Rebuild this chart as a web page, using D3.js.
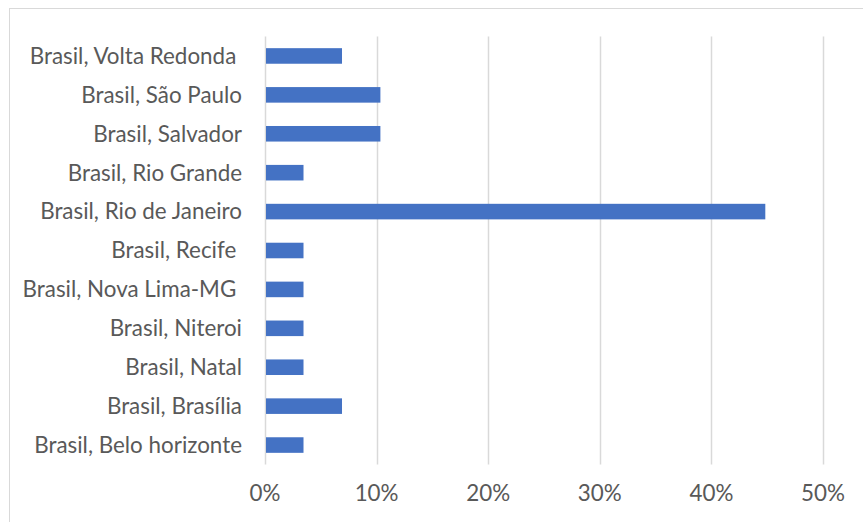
<!DOCTYPE html>
<html>
<head>
<meta charset="utf-8">
<script src="https://cdn.jsdelivr.net/npm/d3@7"></script>
<style>
  html, body { margin: 0; padding: 0; background: #fff; }
  svg text { white-space: pre; }
</style>
</head>
<body>
<svg id="chart" width="863" height="522"></svg>
<script>
// Cities, listed top to bottom
const cities = [
  "Brasil, Volta Redonda ",
  "Brasil, São Paulo",
  "Brasil, Salvador",
  "Brasil, Rio Grande",
  "Brasil, Rio de Janeiro",
  "Brasil, Recife ",
  "Brasil, Nova Lima-MG ",
  "Brasil, Niteroi",
  "Brasil, Natal",
  "Brasil, Brasília",
  "Brasil, Belo horizonte"
];
// Share of responses per city
const shares = [0.069, 0.1034, 0.1034, 0.0345, 0.4483, 0.0345, 0.0345, 0.0345, 0.0345, 0.069, 0.0345];
const ticks = [0, 0.1, 0.2, 0.3, 0.4, 0.5];

const svg = d3.select("#chart");
const font = "Lato, 'Open Sans', sans-serif";

// Chart frame
svg.append("rect")
  .attr("x", 9.5).attr("y", 8.5)
  .attr("width", 870).attr("height", 530)
  .attr("fill", "#fff").attr("stroke", "#d9d9d9").attr("stroke-width", 1);

const x = d3.scaleLinear().domain([0, 0.5]).range([265, 823]);
const y = d3.scaleBand().domain(cities).range([36.5, 464.5]).paddingInner(0.6).paddingOuter(0.3);

// Vertical gridlines
svg.append("g").selectAll("line").data(ticks).join("line")
  .attr("x1", d => Math.round(x(d)) + 0.5).attr("x2", d => Math.round(x(d)) + 0.5)
  .attr("y1", 36.5).attr("y2", 464.5)
  .attr("stroke", "#d9d9d9").attr("stroke-width", 1.5);

// Bars
svg.append("g").selectAll("rect").data(cities).join("rect")
  .attr("x", x(0) + 1)
  .attr("y", d => y(d))
  .attr("width", (d, i) => x(shares[i]) - x(0) - 1)
  .attr("height", y.bandwidth())
  .attr("fill", "#4472c4");

// Category labels
svg.append("g").selectAll("text").data(cities).join("text")
  .attr("x", 242)
  .attr("y", d => y(d) + y.bandwidth() / 2)
  .attr("dy", "0.35em")
  .attr("text-anchor", "end")
  .attr("font-family", font).attr("font-size", 22.4)
  .attr("fill", "#595959")
  .text(d => d);

// Percentage tick labels
svg.append("g").selectAll("text").data(ticks).join("text")
  .attr("x", d => x(d))
  .attr("y", 493)
  .attr("dy", "0.35em")
  .attr("text-anchor", "middle")
  .attr("font-family", font).attr("font-size", 22.4)
  .attr("fill", "#595959")
  .text(d => d3.format(".0%")(d));
</script>
</body>
</html>
